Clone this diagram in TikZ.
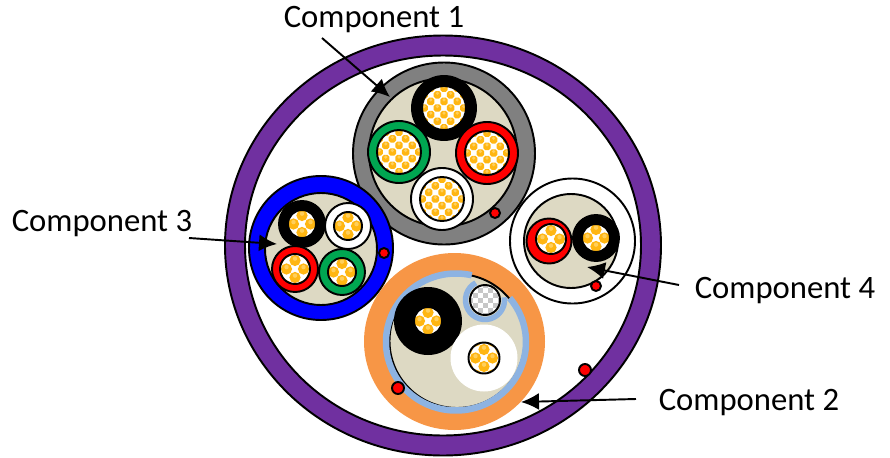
\documentclass[tikz,border=0pt]{standalone}
\usepackage{fontspec}
\setmainfont{Carlito}
\usetikzlibrary{arrows.meta}
\definecolor{jacket}{HTML}{7030A0}
\definecolor{tanfill}{HTML}{DDD9C3}
\definecolor{coreorange}{HTML}{FFB612}
\definecolor{coreshine}{HTML}{FFCF5C}
\definecolor{wiregreen}{HTML}{00A651}
\definecolor{shieldorange}{HTML}{F79646}
\definecolor{shieldblue}{HTML}{8DB3E2}
\definecolor{shieldgray}{HTML}{808080}
\tikzset{
    outline/.style={draw=black, line width=1.1pt},
    lbl/.style={font=\fontsize{18.6}{22}\selectfont, inner sep=0pt},
    callout/.style={line width=1.1pt, -{Latex[length=18*0.02cm, width=17*0.02cm]}}
}
% core: x, y, radius, cell size
\newcommand{\cablecore}[4]{
    \begin{scope}
        \clip (#1, #2) circle (#3);
        \fill[white] (#1, #2) circle (#3);
        \foreach \ix in {-3,...,3}
            \foreach \iy in {-3,...,3} {
                \pgfmathparse{int(mod(abs(\ix+\iy),2))}
                \ifnum\pgfmathresult=1
                    \ifdim#4pt>8pt
                        \fill[coreorange] ({#1+\ix*#4}, {#2+\iy*#4}) circle ({0.66*#4});
                    \else
                        \fill[coreorange, rounded corners=0.3*#4*0.02cm] ({#1+(\ix-0.56)*#4}, {#2+(\iy-0.56)*#4}) rectangle ++({1.12*#4}, {1.12*#4});
                    \fi
                    \fill[coreshine] ({#1+\ix*#4}, {#2+(\iy-0.22)*#4}) circle ({0.26*#4});
                \fi
            }
    \end{scope}
    \draw[outline] (#1, #2) circle (#3);
}
% wire: x, y, outer radius, colour, core radius, cell size
\newcommand{\cablewire}[6]{
    \draw[outline, fill=#4] (#1, #2) circle (#3);
    \cablecore{#1}{#2}{#5}{#6}
}
\newcommand{\drainwire}[3]{
    \draw[outline, fill=red] (#1, #2) circle (#3);
}
\begin{document}
\begin{tikzpicture}[x=0.02cm, y=-0.02cm]
    \useasboundingbox (0, 0) rectangle (890, 457);

    % outer jacket
    \draw[outline, fill=jacket, even odd rule] (443, 245.5) ellipse (218 and 210) (443, 245.5) ellipse (198 and 190);
    \drainwire{585}{370}{6}

    % component 1
    \draw[outline, fill=shieldgray] (444, 153.5) circle (91);
    \draw[outline, fill=tanfill] (443, 152.5) circle (74);
    \cablewire{444}{108}{32}{black}{22}{6.6}
    \cablewire{399}{152}{31}{wiregreen}{22}{6.6}
    \cablewire{487}{153}{31}{red}{22}{6.6}
    \cablewire{442}{199}{31}{white}{22}{6.6}
    \drainwire{495}{213}{5}

    % component 3
    \draw[outline, fill=blue] (321, 248) circle (72);
    \draw[outline, fill=tanfill] (321, 249) circle (56);
    \cablewire{302}{224}{23}{black}{14}{8.5}
    \cablewire{348}{226}{23}{white}{14}{8.5}
    \cablewire{295}{269}{23}{red}{15}{8.5}
    \cablewire{342}{272}{23}{wiregreen}{14}{8.5}
    \drainwire{384}{253}{5}

    % component 4
    \draw[outline, fill=white] (572.5, 241) circle (62.5);
    \draw[outline, fill=tanfill] (571, 241) circle (47);
    \draw[outline, fill=red] (549, 241) circle (22.5);
    \cablecore{551}{239}{15}{8.5}
    \cablewire{596}{238}{23}{black}{14}{8.5}
    \drainwire{596}{286}{5}

    % component 2
    \fill[shieldorange] (454.5, 341.5) ellipse (90.5 and 88.5);
    \draw[outline, fill=tanfill] (457, 341) ellipse (67.5 and 67);
    \draw[shieldblue, line width=6.5*0.02cm] (456, 342) ++(-77:70 and 68.5) arc[start angle=-77, end angle=-400, x radius=70, y radius=68.5];
    \draw[shieldblue, line width=5.5*0.02cm] (485, 300) ++(-118:19.5) arc[start angle=-118, end angle=-368, radius=19.5];
    \fill[black] (428, 321) circle (34);
    \cablecore{428}{321}{14}{8.5}
    \fill[white] (484, 358) circle (33.5);
    \cablecore{484}{358}{15.5}{8.5}
    \begin{scope}
        \clip (485, 300) circle (15);
        \fill[white] (485, 300) circle (15);
        \foreach \ix in {-3,...,3}
            \foreach \iy in {-3,...,3} {
                \pgfmathparse{int(mod(abs(\ix+\iy),2))}
                \ifnum\pgfmathresult=1
                    \fill[black!22] ({485+(\ix-0.5)*5}, {300+(\iy-0.5)*5}) rectangle ++(5, 5);
                \fi
            }
    \end{scope}
    \draw[outline] (485, 300) circle (15);
    \drainwire{398}{388}{6}

    % labels and arrows
    \node[lbl] (lblone) at (374, 20) {Component 1};
    \node[lbl] (lbltwo) at (749, 403) {Component 2};
    \node[lbl] (lblthree) at (102, 223.5) {Component 3};
    \node[lbl] (lblfour) at (785, 291) {Component 4};

    \coordinate (startone) at (322, 38);
    \coordinate (tipone) at (390, 97);
    \coordinate (starttwo) at (636, 399);
    \coordinate (tiptwo) at (521, 402);
    \coordinate (startthree) at (189, 238);
    \coordinate (tipthree) at (277, 244);
    \coordinate (startfour) at (679, 285);
    \coordinate (tipfour) at (587, 267);

    \draw[callout] (startone) -- (tipone);
    \draw[callout] (starttwo) -- (tiptwo);
    \draw[callout] (startthree) -- (tipthree);
    \draw[callout] (startfour) -- (tipfour);
\end{tikzpicture}
\end{document}
